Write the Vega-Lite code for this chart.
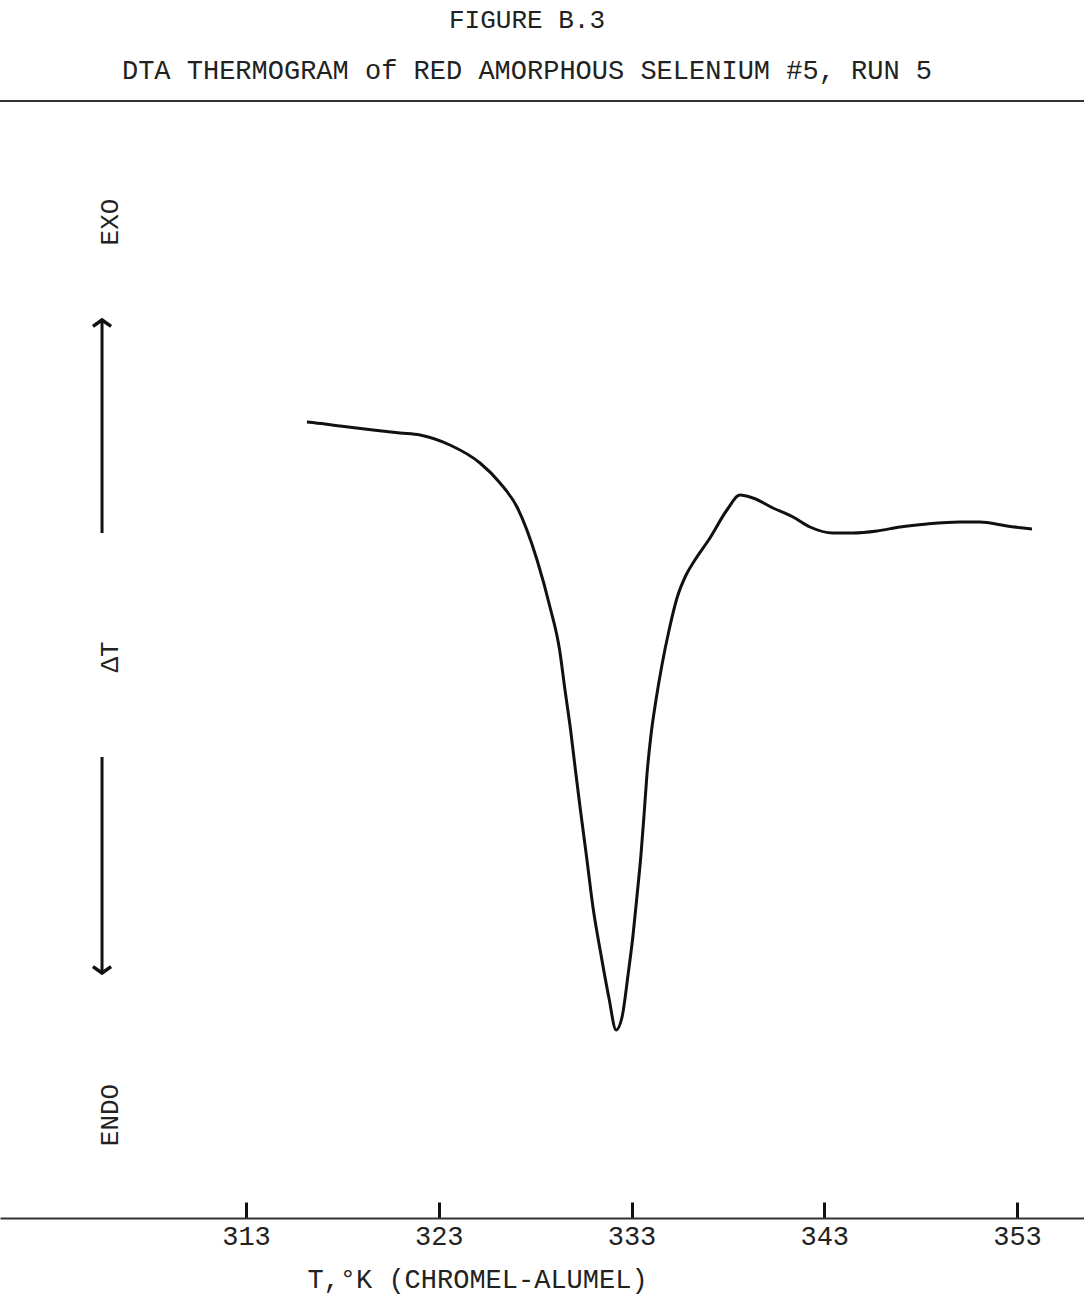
{
  "$schema": "https://vega.github.io/schema/vega-lite/v6.json",
  "width": 1084,
  "height": 1117,
  "autosize": {"type": "none"},
  "padding": {"left": 0, "right": 0, "top": 101, "bottom": 82},
  "background": "white",
  "config": {"view": {"stroke": null}, "font": "Liberation Mono"},
  "title": {
    "text": "FIGURE B.3",
    "subtitle": "DTA THERMOGRAM of RED AMORPHOUS SELENIUM #5, RUN 5",
    "anchor": "middle",
    "frame": "group",
    "dx": -15,
    "offset": 16,
    "font": "Liberation Mono",
    "fontSize": 26,
    "fontWeight": "normal",
    "color": "#222",
    "subtitleFont": "Liberation Mono",
    "subtitleFontSize": 27,
    "subtitleColor": "#222",
    "subtitlePadding": 25
  },
  "resolve": {"axis": {"x": "independent", "y": "independent"}},
  "data": {
    "values": [
      {"T": 316.16, "dT": 79.6},
      {"T": 317.10, "dT": 79.4},
      {"T": 317.88, "dT": 79.2},
      {"T": 319.59, "dT": 78.8},
      {"T": 320.99, "dT": 78.5},
      {"T": 322.03, "dT": 78.3},
      {"T": 323.58, "dT": 77.3},
      {"T": 325.14, "dT": 75.5},
      {"T": 326.18, "dT": 73.5},
      {"T": 327.06, "dT": 71.1},
      {"T": 328.10, "dT": 65.8},
      {"T": 328.77, "dT": 61.1},
      {"T": 329.27, "dT": 56.8},
      {"T": 329.55, "dT": 52.8},
      {"T": 329.84, "dT": 48.8},
      {"T": 330.09, "dT": 44.8},
      {"T": 330.35, "dT": 40.8},
      {"T": 330.67, "dT": 36.1},
      {"T": 331.00, "dT": 31.1},
      {"T": 331.42, "dT": 26.3},
      {"T": 331.83, "dT": 22.0},
      {"T": 332.20, "dT": 18.8},
      {"T": 332.51, "dT": 20.1},
      {"T": 332.82, "dT": 24.3},
      {"T": 333.08, "dT": 28.3},
      {"T": 333.29, "dT": 32.3},
      {"T": 333.49, "dT": 36.3},
      {"T": 333.65, "dT": 40.3},
      {"T": 333.80, "dT": 44.3},
      {"T": 334.01, "dT": 48.3},
      {"T": 334.27, "dT": 51.8},
      {"T": 334.58, "dT": 55.3},
      {"T": 334.95, "dT": 58.8},
      {"T": 335.36, "dT": 62.0},
      {"T": 335.83, "dT": 64.3},
      {"T": 336.29, "dT": 65.8},
      {"T": 337.07, "dT": 68.0},
      {"T": 337.95, "dT": 70.8},
      {"T": 338.63, "dT": 72.3},
      {"T": 339.30, "dT": 72.0},
      {"T": 340.34, "dT": 71.0},
      {"T": 341.38, "dT": 70.1},
      {"T": 342.26, "dT": 69.1},
      {"T": 343.45, "dT": 68.5},
      {"T": 344.49, "dT": 68.5},
      {"T": 345.74, "dT": 68.7},
      {"T": 346.93, "dT": 69.1},
      {"T": 348.33, "dT": 69.4},
      {"T": 350.04, "dT": 69.6},
      {"T": 351.08, "dT": 69.6},
      {"T": 352.48, "dT": 69.2},
      {"T": 353.78, "dT": 68.9}
    ]
  },
  "layer": [
    {
      "mark": {"type": "line", "color": "#111", "strokeWidth": 3, "interpolate": "monotone"},
      "encoding": {
        "x": {
          "field": "T",
          "type": "quantitative",
          "scale": {"domain": [300.237, 356.476], "nice": false, "zero": false},
          "axis": {
            "values": [313, 323, 333, 343, 353],
            "grid": false,
            "domainColor": "#333",
            "domainWidth": 2,
            "tickColor": "#111",
            "tickWidth": 3,
            "tickSize": -16,
            "labelPadding": 21,
            "labelFont": "Liberation Mono",
            "labelFontSize": 27,
            "labelColor": "#222",
            "labelBaseline": "top",
            "labelDx": -4,
            "labelFlush": false,
            "title": "T,°K (CHROMEL-ALUMEL)",
            "titleFont": "Liberation Mono",
            "titleFontSize": 27,
            "titleFontWeight": "normal",
            "titleColor": "#222",
            "titleX": 477,
            "titleY": 61,
            "titleBaseline": "middle",
            "titleAlign": "center"
          }
        },
        "y": {
          "field": "dT",
          "type": "quantitative",
          "scale": {"domain": [0, 111.7], "nice": false, "zero": false},
          "axis": null
        }
      }
    },
    {
      "data": {"values": [{}]},
      "mark": {"type": "rule", "color": "#333", "strokeWidth": 2},
      "encoding": {"y": {"datum": 111.7, "type": "quantitative", "axis": null}}
    },
    {
      "data": {"values": [{}]},
      "mark": {"type": "rule", "color": "#111", "strokeWidth": 3},
      "encoding": {
        "x": {"datum": 305.53, "type": "quantitative", "axis": null},
        "y": {"datum": 68.5, "type": "quantitative", "axis": null},
        "y2": {"datum": 89.6}
      }
    },
    {
      "data": {"values": [{}]},
      "mark": {"type": "rule", "color": "#111", "strokeWidth": 3},
      "encoding": {
        "x": {"datum": 305.53, "type": "quantitative", "axis": null},
        "y": {"datum": 24.6, "type": "quantitative", "axis": null},
        "y2": {"datum": 46.1}
      }
    },
    {
      "data": {"values": [{}]},
      "mark": {"type": "point", "shape": "M-1,0.7L0,0L1,0.7", "filled": false, "color": "#111", "strokeWidth": 3.5, "size": 330, "opacity": 1},
      "encoding": {
        "x": {"datum": 305.53, "type": "quantitative", "axis": null},
        "y": {"datum": 89.8, "type": "quantitative", "axis": null}
      }
    },
    {
      "data": {"values": [{}]},
      "mark": {"type": "point", "shape": "M-1,-0.7L0,0L1,-0.7", "filled": false, "color": "#111", "strokeWidth": 3.5, "size": 330, "opacity": 1},
      "encoding": {
        "x": {"datum": 305.53, "type": "quantitative", "axis": null},
        "y": {"datum": 24.5, "type": "quantitative", "axis": null}
      }
    },
    {
      "data": {"values": [{}]},
      "mark": {"type": "text", "angle": 270, "font": "Liberation Mono", "fontSize": 26, "color": "#222", "align": "center", "baseline": "middle"},
      "encoding": {
        "x": {"datum": 305.94, "type": "quantitative", "axis": null},
        "y": {"datum": 99.6, "type": "quantitative", "axis": null},
        "text": {"value": "EXO"}
      }
    },
    {
      "data": {"values": [{}]},
      "mark": {"type": "text", "angle": 270, "font": "Liberation Mono", "fontSize": 26, "color": "#222", "align": "center", "baseline": "middle"},
      "encoding": {
        "x": {"datum": 305.94, "type": "quantitative", "axis": null},
        "y": {"datum": 56.1, "type": "quantitative", "axis": null},
        "text": {"value": "ΔT"}
      }
    },
    {
      "data": {"values": [{}]},
      "mark": {"type": "text", "angle": 270, "font": "Liberation Mono", "fontSize": 26, "color": "#222", "align": "center", "baseline": "middle"},
      "encoding": {
        "x": {"datum": 305.94, "type": "quantitative", "axis": null},
        "y": {"datum": 10.3, "type": "quantitative", "axis": null},
        "text": {"value": "ENDO"}
      }
    }
  ]
}
